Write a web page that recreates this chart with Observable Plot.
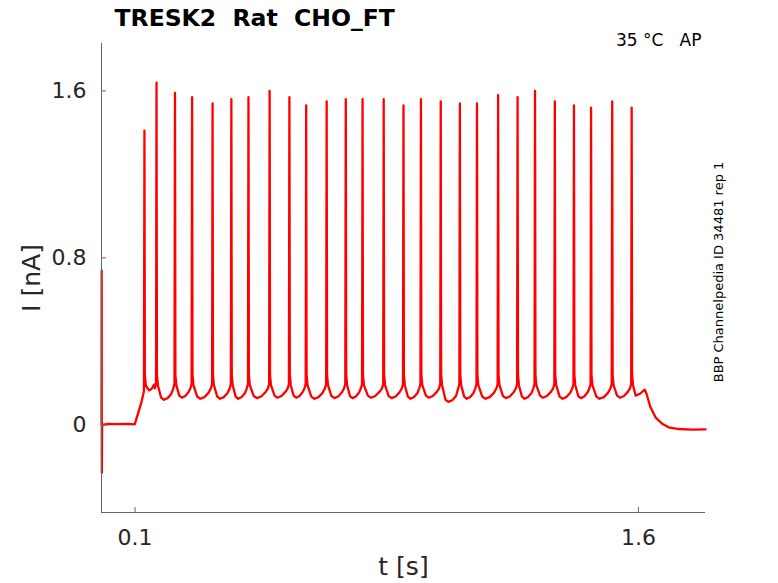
<!DOCTYPE html>
<html><head><meta charset="utf-8">
<script src="https://cdn.jsdelivr.net/npm/d3@7"></script>
<script src="https://cdn.jsdelivr.net/npm/@observablehq/plot@0.6"></script>
<style>body{margin:0;background:#fff} svg{font-family:"DejaVu Sans";}</style>
</head><body><div id="chart"></div>
<script>
// ---- data ----
const title = "TRESK2\u00a0\u00a0Rat\u00a0\u00a0CHO_FT";
const condition = "35 °C\u00a0\u00a0\u00a0AP";
const source = "BBP Channelpedia ID 34481 rep 1";
const xTicks = [0.1, 1.6];
const yTicks = [0, 0.8, 1.6];
const yTickLabels = ["0", "0.8", "1.6"];
const xDomain = [0, 1.8];
const yDomain = [-0.42, 1.827];

// onset artefact, holding period and stimulus ramp (t [s], I [nA])
const preT = [0, 0.0005, 0.001, 0.0018, 0.02, 0.05, 0.08, 0.099, 0.11, 0.12, 0.1262];
const preI = [0.0, 0.74, -0.23, 0.0, 0.004, 0.003, 0.005, 0.002, 0.06, 0.115, 0.16];

// action potentials: time and peak current
const spikeT = [0.128,0.164,0.219,0.270,0.331,0.387,0.438,0.501,0.560,0.610,0.671,0.728,0.778,0.841,0.900,0.952,1.011,1.068,1.119,1.182,1.240,1.292,1.351,1.408,1.459,1.522,1.580];
const spikePeak = [1.41,1.64,1.59,1.57,1.54,1.56,1.57,1.60,1.57,1.53,1.55,1.56,1.56,1.56,1.53,1.56,1.55,1.54,1.54,1.58,1.57,1.60,1.55,1.53,1.52,1.55,1.52];
// lowest current between each spike and the next
const troughI = [0.165,0.12,0.13,0.125,0.125,0.125,0.128,0.13,0.13,0.125,0.128,0.128,0.13,0.128,0.125,0.13,0.11,0.125,0.125,0.128,0.125,0.13,0.125,0.128,0.125,0.13];
const preSpikeI = 0.195;

// after the last spike: end of stimulus and return to holding
const tailT = [1.592, 1.606, 1.614, 1.619, 1.624, 1.636, 1.651, 1.671, 1.69, 1.72, 1.76, 1.8];
const tailI = [0.14, 0.15, 0.162, 0.168, 0.15, 0.084, 0.036, 0.005, -0.012, -0.02, -0.023, -0.022];

// ---- build the trace table ----
const trace = [];
preT.forEach((t, i) => trace.push({t, I: preI[i]}));
spikeT.forEach((t, i) => {
  const pre = i === 0 ? preI[preI.length - 1] : preSpikeI;
  trace.push({t: t - 0.0015, I: pre});
  trace.push({t, I: spikePeak[i]});
  trace.push({t: t + 0.0012, I: 0.24});
  trace.push({t: t + 0.004, I: 0.19});
  if (i < spikeT.length - 1) {
    const next = spikeT[i + 1], isi = next - t, tr = troughI[i];
    trace.push({t: t + 0.25 * isi, I: tr + 0.01});
    trace.push({t: t + 0.4 * isi, I: tr});
    trace.push({t: t + 0.6 * isi, I: tr + 0.008});
    trace.push({t: t + 0.8 * isi, I: tr + 0.028});
    trace.push({t: next - 0.005, I: 0.175});
  }
});
tailT.forEach((t, i) => trace.push({t, I: tailI[i]}));

const W = 778, H = 583, mL = 101, mR = 73, mT = 43, mB = 71;
const fw = W - mL - mR, fh = H - mT - mB;
const axisColor = "#666";
const textColor = "#262626";

const chart = Plot.plot({
  width: W, height: H,
  marginLeft: mL, marginRight: mR, marginTop: mT, marginBottom: mB,
  style: {fontFamily: "DejaVu Sans", background: "#fff", color: textColor},
  x: {domain: xDomain},
  y: {domain: yDomain},
  marks: [
    Plot.line(trace, {x: "t", y: "I", stroke: "#ff0000", strokeWidth: 2.3}),
    Plot.ruleX([xDomain[0]], {stroke: axisColor}),
    Plot.ruleY([yDomain[0]], {stroke: axisColor}),
    Plot.tickX(xTicks, {x: d => d, stroke: axisColor, insetTop: fh - 5}),
    Plot.tickY(yTicks, {y: d => d, stroke: axisColor, insetRight: fw - 5}),
    Plot.axisX({ticks: xTicks, tickSize: 0, tickPadding: 17, fontSize: 22, tickFormat: d => String(d), label: null, fill: textColor}),
    Plot.axisY({ticks: yTicks, tickSize: 0, tickPadding: 15, fontSize: 22, tickFormat: d => yTickLabels[yTicks.indexOf(d)], label: null, fill: textColor}),
    Plot.text(["t [s]"], {text: d => d, frameAnchor: "bottom", dy: 54, lineAnchor: "middle", textAnchor: "middle", fontSize: 25, fill: textColor}),
    Plot.text(["I [nA]"], {text: d => d, frameAnchor: "left", dx: -70, rotate: -90, lineAnchor: "middle", textAnchor: "middle", fontSize: 25, fill: textColor}),
    Plot.text([title], {text: d => d, frameAnchor: "top-left", dx: 13, dy: -25, lineAnchor: "middle", textAnchor: "start", fontWeight: "bold", fontSize: 23.5, fill: "#000"}),
    Plot.text([condition], {text: d => d, frameAnchor: "top-right", dx: -4, dy: -3, lineAnchor: "middle", textAnchor: "end", fontSize: 17, fill: "#000"}),
    Plot.text([source], {text: d => d, frameAnchor: "right", dx: 13, dy: -6, rotate: -90, lineAnchor: "middle", textAnchor: "middle", fontSize: 13, fill: "#000"})
  ]
});
document.getElementById("chart").appendChild(chart);
</script>
</body></html>
